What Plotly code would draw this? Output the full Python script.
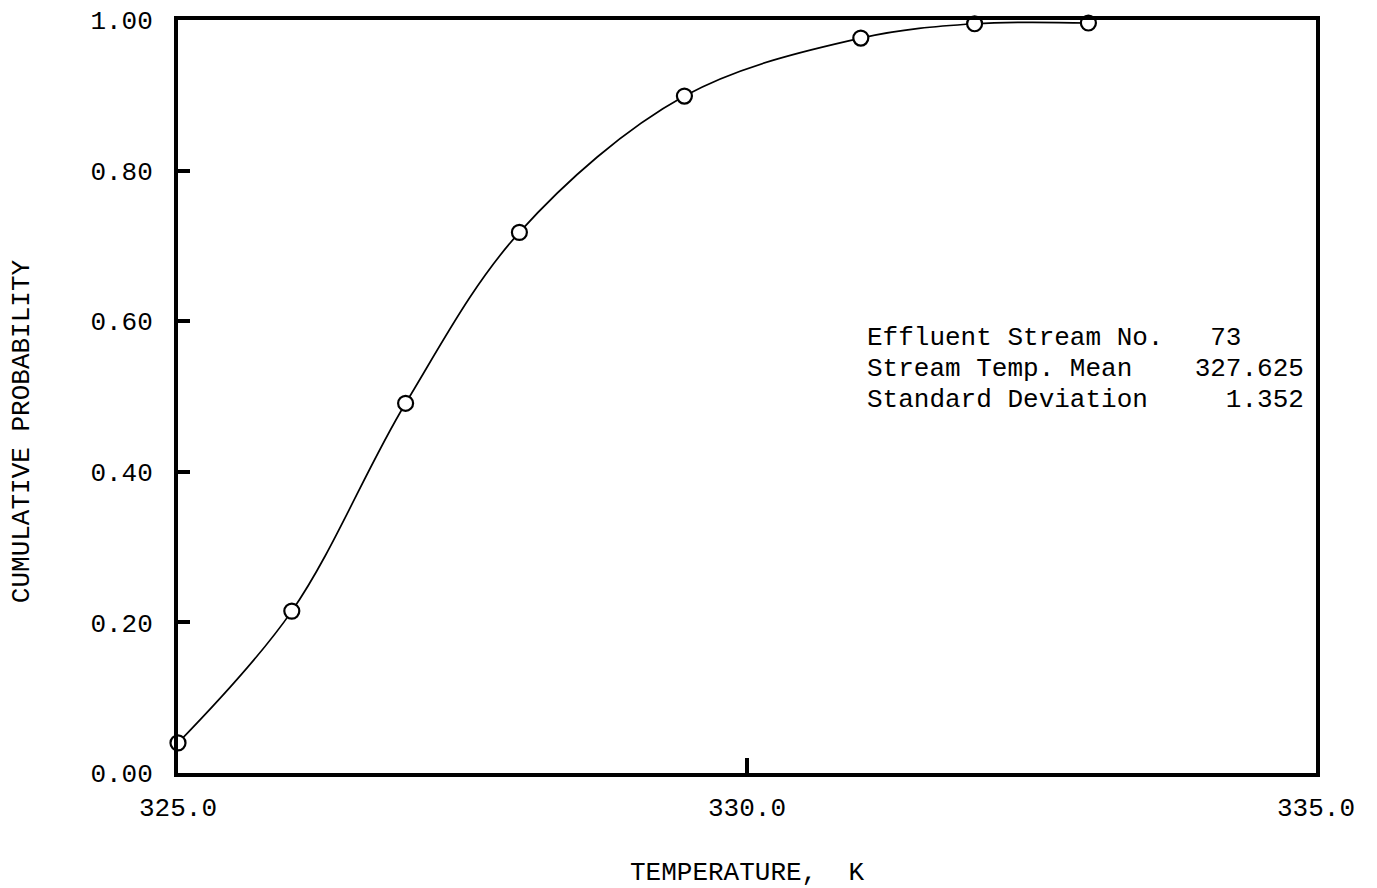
import plotly.graph_objects as go

# Cumulative probability of effluent stream temperature
temperature_k = [325.0, 326.0, 327.0, 328.0, 329.45, 331.0, 332.0, 333.0]
cumulative_prob = [0.04, 0.215, 0.491, 0.718, 0.899, 0.976, 0.995, 0.996]

x_ticks = [325.0, 330.0, 335.0]
y_ticks = [0.0, 0.2, 0.4, 0.6, 0.8, 1.0]

info_lines = [
    "Effluent Stream No.   73",
    "Stream Temp. Mean    327.625",
    "Standard Deviation     1.352",
]

FONT = "Liberation Mono, Courier New, monospace"

fig = go.Figure()
fig.add_trace(go.Scatter(
    x=temperature_k,
    y=cumulative_prob,
    mode="lines+markers",
    line=dict(color="black", width=1.7, shape="spline", smoothing=1.0),
    marker=dict(symbol="circle", size=15, color="white",
                line=dict(color="black", width=2.2)),
    cliponaxis=False,
    showlegend=False,
))

# Stream summary block, left-aligned monospace lines
for i, line in enumerate(info_lines):
    fig.add_annotation(
        x=331.04, y=0.578 - i * 0.041,
        xref="x", yref="y",
        xanchor="left", yanchor="middle",
        text=line.replace(" ", "\u00a0"),
        showarrow=False,
        font=dict(family=FONT, size=26, color="black"),
    )

# Vertical axis caption
fig.add_annotation(
    x=0, y=0.454, xref="paper", yref="paper",
    xanchor="center", yanchor="middle", xshift=-156,
    text="CUMULATIVE PROBABILITY", textangle=-90,
    showarrow=False,
    font=dict(family=FONT, size=26, color="black"),
)

fig.update_layout(
    width=1377, height=888,
    margin=dict(l=178, r=61, t=20, b=115),
    paper_bgcolor="white",
    plot_bgcolor="white",
    font=dict(family=FONT, size=26, color="black"),
    xaxis=dict(
        range=[325, 335],
        tickvals=x_ticks,
        tickformat=".1f",
        ticks="inside", ticklen=15, tickwidth=4, tickcolor="black",
        ticklabelstandoff=8,
        showline=True, linewidth=4, linecolor="black", mirror=True,
        showgrid=False, zeroline=False, automargin=False,
        title=dict(text="TEMPERATURE,\u00a0\u00a0K", standoff=52,
                   font=dict(family=FONT, size=26)),
    ),
    yaxis=dict(
        range=[0, 1],
        tickvals=y_ticks,
        tickformat=".2f",
        ticks="inside", ticklen=12, tickwidth=4, tickcolor="black",
        ticklabelstandoff=16,
        showline=True, linewidth=4, linecolor="black", mirror=True,
        showgrid=False, zeroline=False, automargin=False,
    ),
)

fig.write_html("out.html")
